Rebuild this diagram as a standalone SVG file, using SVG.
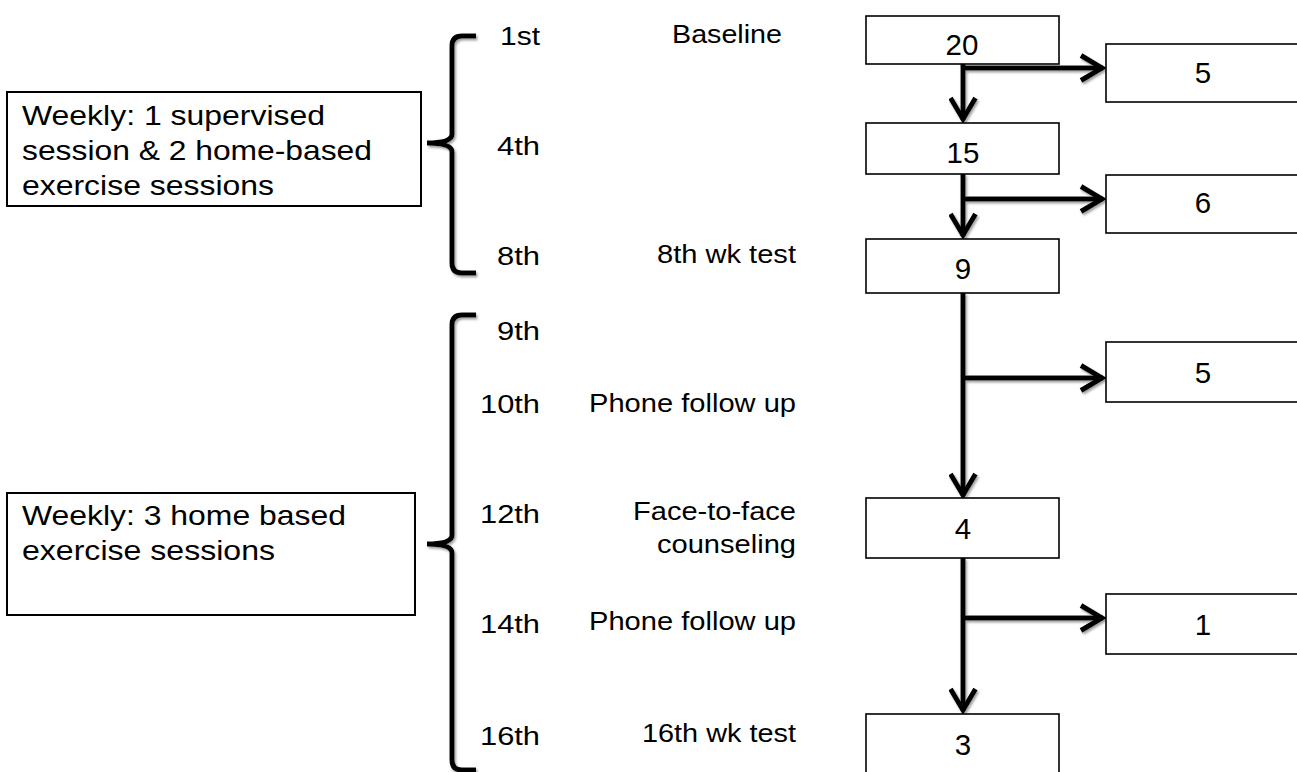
<svg xmlns="http://www.w3.org/2000/svg" width="1297" height="772" viewBox="0 0 1297 772">
<style>
text{font-family:"Liberation Sans",Arial,sans-serif;fill:#000}
.big{font-size:28px}
.num{font-size:29.5px;text-anchor:middle}
.wk{font-size:25px}
.box{fill:#fff;stroke:#000;stroke-width:1.6}
.lbox{fill:#fff;stroke:#000;stroke-width:2}
.con{fill:none;stroke:#000;stroke-width:5}
.brace{fill:none;stroke:#000;stroke-width:5;stroke-linecap:butt}
</style>
<defs>
<filter id="sh" x="-10%" y="-10%" width="130%" height="130%">
<feDropShadow dx="1.5" dy="2" stdDeviation="0.8" flood-color="#8a8a8a" flood-opacity="0.8"/>
</filter>
<marker id="arr" markerUnits="userSpaceOnUse" viewBox="-28 -16 32 32" markerWidth="32" markerHeight="32" refX="0" refY="0" orient="auto">
<path d="M-22,-12.5 L-1,0 L-22,12.5" fill="none" stroke="#000" stroke-width="5"/>
</marker>
</defs>
<rect width="1297" height="772" fill="#fff"/>

<g id="phase1">
<rect class="lbox" x="7" y="92" width="414" height="114"/>
<text class="big" x="22" y="125" textLength="303" lengthAdjust="spacingAndGlyphs">Weekly: 1 supervised</text>
<text class="big" x="22" y="160" textLength="350" lengthAdjust="spacingAndGlyphs">session &amp; 2 home-based</text>
<text class="big" x="22" y="195" textLength="252" lengthAdjust="spacingAndGlyphs">exercise sessions</text>
</g>
<g id="phase2">
<rect class="lbox" x="7" y="493" width="408" height="122"/>
<text class="big" x="22" y="525" textLength="324" lengthAdjust="spacingAndGlyphs">Weekly: 3 home based</text>
<text class="big" x="22" y="560" textLength="253" lengthAdjust="spacingAndGlyphs">exercise sessions</text>
</g>

<g id="braces" filter="url(#sh)">
<path class="brace" d="M476,36 L462,36 Q452,36 452,46 L452,134 Q452,143 427,143 Q452,143 452,152 L452,263 Q452,273 462,273 L476,273"/>
<path class="brace" d="M476,315 L462,315 Q452,315 452,325 L452,535 Q452,544 427,544 Q452,544 452,553 L452,760 Q452,770 462,770 L476,770"/>
</g>

<g id="weeks">
<text class="wk" x="500" y="45" textLength="40" lengthAdjust="spacingAndGlyphs">1st</text>
<text class="wk" x="497" y="155" textLength="43" lengthAdjust="spacingAndGlyphs">4th</text>
<text class="wk" x="497" y="265" textLength="43" lengthAdjust="spacingAndGlyphs">8th</text>
<text class="wk" x="497" y="340" textLength="43" lengthAdjust="spacingAndGlyphs">9th</text>
<text class="wk" x="480" y="413" textLength="60" lengthAdjust="spacingAndGlyphs">10th</text>
<text class="wk" x="480" y="523" textLength="60" lengthAdjust="spacingAndGlyphs">12th</text>
<text class="wk" x="480" y="633" textLength="60" lengthAdjust="spacingAndGlyphs">14th</text>
<text class="wk" x="480" y="745" textLength="60" lengthAdjust="spacingAndGlyphs">16th</text>
</g>

<g id="events">
<text class="wk" x="672" y="43" textLength="110" lengthAdjust="spacingAndGlyphs">Baseline</text>
<text class="wk" x="657" y="263" textLength="139" lengthAdjust="spacingAndGlyphs">8th wk test</text>
<text class="wk" x="589" y="412" textLength="207" lengthAdjust="spacingAndGlyphs">Phone follow up</text>
<text class="wk" x="633" y="520" textLength="163" lengthAdjust="spacingAndGlyphs">Face-to-face</text>
<text class="wk" x="657" y="553" textLength="139" lengthAdjust="spacingAndGlyphs">counseling</text>
<text class="wk" x="589" y="630" textLength="207" lengthAdjust="spacingAndGlyphs">Phone follow up</text>
<text class="wk" x="642" y="742" textLength="154" lengthAdjust="spacingAndGlyphs">16th wk test</text>
</g>

<g id="connectors" filter="url(#sh)">
<path class="con" d="M963,64 L963,120" marker-end="url(#arr)"/>
<path class="con" d="M963,68 L1103,68" marker-end="url(#arr)"/>
<path class="con" d="M963,174 L963,236" marker-end="url(#arr)"/>
<path class="con" d="M963,199 L1103,199" marker-end="url(#arr)"/>
<path class="con" d="M963,293 L963,496" marker-end="url(#arr)"/>
<path class="con" d="M963,378 L1103,378" marker-end="url(#arr)"/>
<path class="con" d="M963,558 L963,711" marker-end="url(#arr)"/>
<path class="con" d="M963,618 L1103,618" marker-end="url(#arr)"/>
</g>

<g id="n20"><rect class="box" x="866" y="16" width="193" height="48"/><text class="num" x="962" y="55">20</text></g>
<g id="n5a"><rect class="box" x="1106" y="44" width="193" height="58"/><text class="num" x="1203" y="83">5</text></g>
<g id="n15"><rect class="box" x="866" y="123" width="193" height="51"/><text class="num" x="963" y="163">15</text></g>
<g id="n6"><rect class="box" x="1106" y="175" width="193" height="58"/><text class="num" x="1203" y="213">6</text></g>
<g id="n9"><rect class="box" x="866" y="239" width="193" height="54"/><text class="num" x="963" y="279">9</text></g>
<g id="n5b"><rect class="box" x="1106" y="342" width="193" height="60"/><text class="num" x="1203" y="383">5</text></g>
<g id="n4"><rect class="box" x="866" y="498" width="193" height="60"/><text class="num" x="963" y="539">4</text></g>
<g id="n1"><rect class="box" x="1106" y="594" width="193" height="60"/><text class="num" x="1203" y="635">1</text></g>
<g id="n3"><rect class="box" x="866" y="714" width="193" height="70"/><text class="num" x="963" y="755">3</text></g>
</svg>
